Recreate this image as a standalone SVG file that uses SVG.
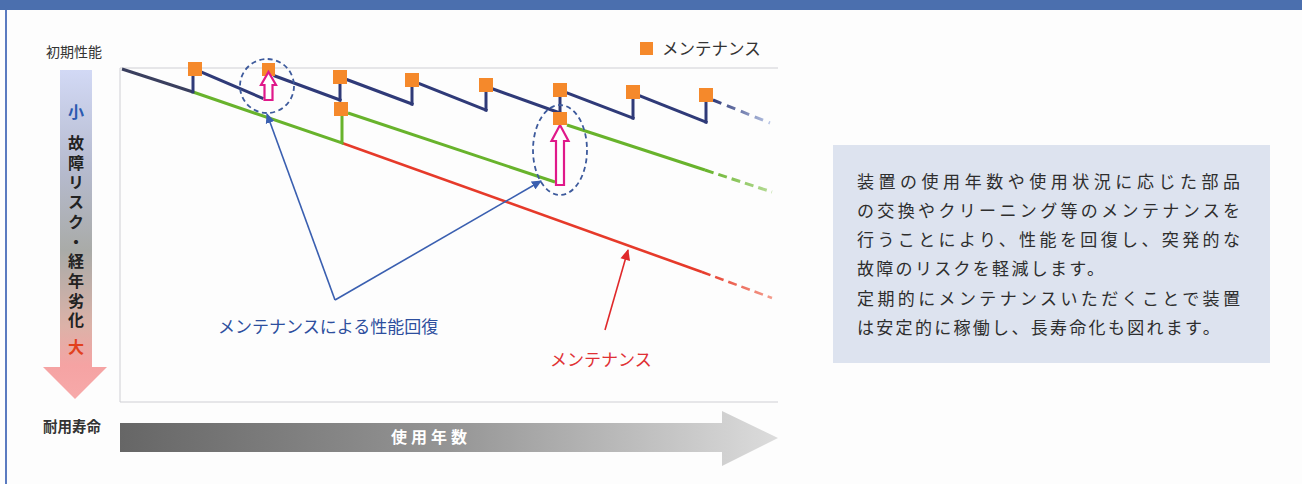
<svg xmlns="http://www.w3.org/2000/svg" width="1302" height="484" viewBox="0 0 1302 484">
<defs>
<style>
.jp{font-family:"Noto Sans CJK JP","Noto Sans",sans-serif;}
.navy{stroke:#2f3a78;stroke-width:3;fill:none;stroke-linecap:square;}
.green{stroke:#68b32c;stroke-width:3;fill:none;}
.red{stroke:#e63a2a;stroke-width:2.6;fill:none;}
.sq{fill:#f5892b;}
.pink{fill:#ffffff;stroke:#e0198a;stroke-width:2.2;stroke-linejoin:miter;}
.ring{fill:none;stroke:#3d5a9c;stroke-width:1.8;stroke-dasharray:5 3.5;}
.frame{stroke:#cfcfd4;stroke-width:1;fill:none;}
.bartxt{font-size:16px;font-weight:bold;fill:#222;text-anchor:middle;}
.body{font-size:17px;fill:#2e2e2e;}
</style>
<linearGradient id="vbar" x1="0" y1="70" x2="0" y2="398" gradientUnits="userSpaceOnUse">
<stop offset="0" stop-color="#d2d9f5"/>
<stop offset="0.3" stop-color="#b6bbcf"/>
<stop offset="0.55" stop-color="#a9aba8"/>
<stop offset="0.78" stop-color="#dcb2a8"/>
<stop offset="0.9" stop-color="#f5a3a3"/>
<stop offset="1" stop-color="#f7a9a9"/>
</linearGradient>
<linearGradient id="hbar" x1="120" y1="0" x2="778" y2="0" gradientUnits="userSpaceOnUse">
<stop offset="0" stop-color="#666666"/>
<stop offset="0.5" stop-color="#959595"/>
<stop offset="1" stop-color="#dcdcdc"/>
</linearGradient>
<linearGradient id="navyfade" x1="713" y1="0" x2="770" y2="0" gradientUnits="userSpaceOnUse">
<stop offset="0" stop-color="#2f3a78"/><stop offset="1" stop-color="#b9c6e6"/>
</linearGradient>
<linearGradient id="greenfade" x1="705" y1="0" x2="772" y2="0" gradientUnits="userSpaceOnUse">
<stop offset="0" stop-color="#68b32c"/><stop offset="1" stop-color="#b7dc98"/>
</linearGradient>
<linearGradient id="redfade" x1="702" y1="0" x2="774" y2="0" gradientUnits="userSpaceOnUse">
<stop offset="0" stop-color="#e63a2a"/><stop offset="1" stop-color="#f4a090"/>
</linearGradient>
<marker id="ahBlue" viewBox="0 0 10 10" refX="9" refY="5" markerWidth="10" markerHeight="10" markerUnits="userSpaceOnUse" orient="auto">
<path d="M0,0.5 L10,5 L0,9.5 Z" fill="#3a5fb0"/>
</marker>
<marker id="ahRed" viewBox="0 0 10 10" refX="9" refY="5" markerWidth="12" markerHeight="11" markerUnits="userSpaceOnUse" orient="auto">
<path d="M0,0.5 L10,5 L0,9.5 Z" fill="#e0282a"/>
</marker>
</defs>

<rect x="0" y="0" width="1302" height="484" fill="#fdfdfd"/>
<g id="page-frame">
<rect x="0" y="0" width="1302" height="10" fill="#4b6fae"/>
<line x1="6" y1="10" x2="6" y2="484" stroke="#5b7bc0" stroke-width="2"/>
</g>

<g id="label-initial">
<text class="jp" x="46" y="57" font-size="14" fill="#333">初期性能</text>
</g>
<g id="label-life">
<text class="jp" x="43" y="432" font-size="14.5" font-weight="bold" fill="#333">耐用寿命</text>
</g>

<g id="risk-bar">
<rect x="60" y="70" width="32" height="298" fill="url(#vbar)"/>
<polygon points="43,367 107,367 75,399" fill="url(#vbar)"/>
<text class="jp bartxt" x="76" y="118" style="fill:#2a5ab0">小</text>
<text class="jp" x="76" y="135" font-size="16" font-weight="bold" fill="#222" writing-mode="tb" style="writing-mode:vertical-rl" letter-spacing="3.7">故障リスク・経年劣化</text>
<text class="jp bartxt" x="76" y="353" style="fill:#e2401e">大</text>
</g>

<g id="years-arrow">
<polygon points="120,423 722,423 722,411 778,438 722,466 722,452 120,452" fill="url(#hbar)"/>
<text class="jp" x="431" y="443" font-size="16" font-weight="bold" fill="#ffffff" text-anchor="middle" letter-spacing="4">使用年数</text>
</g>

<g id="chart-frame">
<polyline class="frame" points="778,68 120,68 120,402 778,402"/>
</g>

<g id="legend">
<rect class="sq" x="640" y="42" width="13" height="13"/>
<text class="jp" x="662" y="55" font-size="16.5" fill="#333">メンテナンス</text>
</g>

<g id="line-red">
<line class="red" x1="342" y1="143" x2="702" y2="272"/>
<line x1="702" y1="272" x2="772" y2="298" stroke="url(#redfade)" stroke-width="2.6" stroke-dasharray="9 5"/>
</g>

<g id="line-green">
<polyline class="green" points="193,92 342,143 342,116"/>
<line class="green" x1="348" y1="113" x2="555" y2="182"/>
<line class="green" x1="567" y1="125" x2="705" y2="170"/>
<line x1="705" y1="170" x2="772" y2="192" stroke="url(#greenfade)" stroke-width="3" stroke-dasharray="9 5"/>
</g>

<g id="line-navy">
<line x1="122" y1="69" x2="193" y2="92" stroke="#3a3f5e" stroke-width="3"/>
<line class="navy" x1="193" y1="92" x2="193" y2="76"/>
<line class="navy" x1="201" y1="72" x2="262" y2="98"/>
<line class="navy" x1="275" y1="76" x2="340" y2="100"/>
<line class="navy" x1="340" y1="100" x2="340" y2="84"/>
<line class="navy" x1="348" y1="80" x2="412" y2="104"/>
<line class="navy" x1="412" y1="104" x2="412" y2="87"/>
<line class="navy" x1="420" y1="84" x2="486" y2="110"/>
<line class="navy" x1="486" y1="110" x2="486" y2="92"/>
<line class="navy" x1="493" y1="89" x2="560" y2="113"/>
<line class="navy" x1="560" y1="113" x2="560" y2="97"/>
<line class="navy" x1="567" y1="93" x2="633" y2="118"/>
<line class="navy" x1="633" y1="118" x2="633" y2="98"/>
<line class="navy" x1="640" y1="96" x2="706" y2="122"/>
<line class="navy" x1="706" y1="122" x2="706" y2="102"/>
<line x1="713" y1="100" x2="770" y2="123" stroke="url(#navyfade)" stroke-width="3" stroke-dasharray="9 6"/>
</g>

<g id="maintenance-points">
<rect class="sq" x="188" y="62" width="14" height="14"/>
<rect class="sq" x="262" y="63" width="13" height="13"/>
<rect class="sq" x="333" y="70" width="14" height="14"/>
<rect class="sq" x="334" y="102" width="14" height="14"/>
<rect class="sq" x="405" y="73" width="14" height="14"/>
<rect class="sq" x="479" y="78" width="14" height="14"/>
<rect class="sq" x="553" y="83" width="14" height="14"/>
<rect class="sq" x="626" y="85" width="14" height="14"/>
<rect class="sq" x="699" y="88" width="14" height="14"/>
</g>

<g id="recovery-1">
<path class="pink" d="M264.5,100 V85 H261 L268.5,72 L276,85 H272.5 V100 Z"/>
<circle class="ring" cx="267" cy="86" r="27"/>
</g>
<g id="recovery-2">
<path class="pink" d="M556,185 V141 H551.5 L560,125 L568.5,141 H564 V185 Z"/>
<rect class="sq" x="553" y="112" width="14" height="13"/>
<ellipse class="ring" cx="560" cy="150" rx="27" ry="45"/>
</g>

<g id="connectors">
<line x1="335" y1="300" x2="267" y2="114" stroke="#3a5fb0" stroke-width="1.6" marker-end="url(#ahBlue)"/>
<line x1="335" y1="300" x2="541" y2="181" stroke="#3a5fb0" stroke-width="1.6" marker-end="url(#ahBlue)"/>
<line x1="605" y1="330" x2="628" y2="250" stroke="#e0282a" stroke-width="1.6" marker-end="url(#ahRed)"/>
</g>

<g id="label-recovery">
<text class="jp" x="218" y="333" font-size="17" fill="#2d4f9e">メンテナンスによる性能回復</text>
</g>
<g id="label-maintenance">
<text class="jp" x="550" y="366" font-size="17" fill="#e03034">メンテナンス</text>
</g>

<g id="description">
<rect x="833" y="145" width="437" height="218" fill="#dde3ef"/>
<text class="jp body" x="857" y="188" textLength="383" lengthAdjust="spacing">装置の使用年数や使用状況に応じた部品</text>
<text class="jp body" x="857" y="217" textLength="383" lengthAdjust="spacing">の交換やクリーニング等のメンテナンスを</text>
<text class="jp body" x="857" y="246" textLength="383" lengthAdjust="spacing">行うことにより、性能を回復し、突発的な</text>
<text class="jp body" x="857" y="275" letter-spacing="2.3">故障のリスクを軽減します。</text>
<text class="jp body" x="857" y="305" textLength="383" lengthAdjust="spacing">定期的にメンテナンスいただくことで装置</text>
<text class="jp body" x="857" y="334" letter-spacing="2.3">は安定的に稼働し、長寿命化も図れます。</text>
</g>
</svg>
